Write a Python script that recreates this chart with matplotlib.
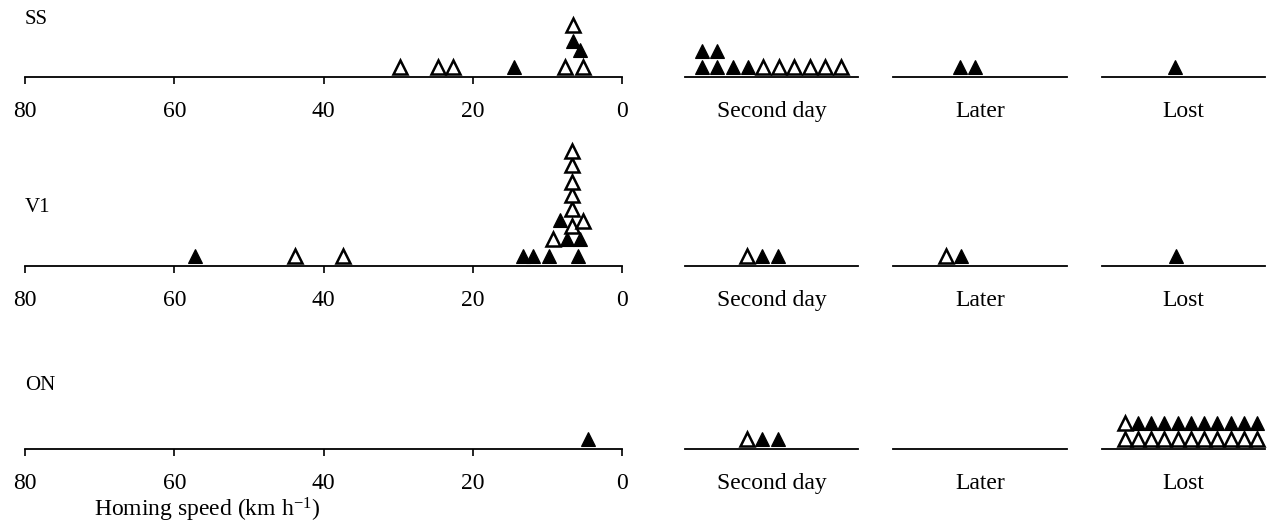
import matplotlib
matplotlib.use("Agg")
import matplotlib.pyplot as plt

plt.rcParams['font.family'] = ['Liberation Serif', 'DejaVu Serif']
plt.rcParams['mathtext.fontset'] = 'custom'
plt.rcParams['mathtext.rm'] = 'Liberation Serif'
plt.rcParams['mathtext.it'] = 'Liberation Serif:italic'

# homing speed (km/h), stack level, filled (1) or open (0)
ss_speed = [29.7, 24.6, 22.6, 14.5, 7.6, 5.2, 5.6, 6.6, 6.6]
ss_level = [0, 0, 0, 0, 0, 0, 1.15, 1.8, 2.85]
ss_filled = [0, 0, 0, 1, 0, 0, 1, 1, 0]

v1_speed = [57.2, 43.8, 37.4, 13.2, 11.9, 9.8, 5.9, 9.2, 7.4, 5.6,
            6.7, 8.3, 5.2, 6.7, 6.7, 6.7, 6.7, 6.7]
v1_level = [0, 0, 0, 0, 0, 0, 0, 1.15, 1.15, 1.15,
            2.05, 2.5, 2.4, 3.2, 4.2, 5.1, 6.2, 7.2]
v1_filled = [1, 0, 0, 1, 1, 1, 1, 0, 1, 1,
             0, 1, 0, 0, 0, 0, 0, 0]

on_speed = [4.6]
on_level = [0]
on_filled = [1]

sites = ["SS", "V1", "ON"]
speed_ticks = [80, 60, 40, 20, 0]
categories = ["Second day", "Later", "Lost"]

# outcome sequences per category (F = filled, O = open), bottom row first
second_day = {"SS": ["FFFFOOOOOO", "FF"], "V1": ["OFF"], "ON": ["OFF"]}
later = {"SS": ["FF"], "V1": ["OF"], "ON": []}
lost = {"SS": ["F"], "V1": ["F"], "ON": ["OOOOOOOOOOO", "OFFFFFFFFFF"]}
cat_data = [second_day, later, lost]

# layout (pixels)
W, H = 1267, 525
fig = plt.figure(figsize=(W / 100, H / 100), dpi=100)
row_base = [77, 266, 449]       # y of axis line, from top
row_label_y = [20, 207, 385]
main_x = (25, 622)
cat_x = [(685, 858), (893, 1067), (1102, 1265)]
cat_slots = [11.2, 11.5, 12.3]
cat_start = [{"SS": 1.08, "V1": 4.0, "ON": 4.0},
             {"SS": 4.4, "V1": 3.5, "ON": 4.0},
             {"SS": 5.5, "V1": 5.6, "ON": 1.7}]
lvl_px = 14.6
ax_h = 135
y0 = -10 / lvl_px
fs = 17
ms = 10.5

def tri(ax, x, y, filled):
    ax.plot(x, y, marker='^', ls='none', ms=ms,
            mfc='black' if filled else 'white', mec='black',
            mew=0.8 if filled else 1.8, clip_on=False)

def style(ax):
    for s in ['top', 'right', 'left']:
        ax.spines[s].set_visible(False)
    ax.spines['bottom'].set_linewidth(1.3)
    ax.set_yticks([])
    ax.set_ylim(y0, y0 + ax_h / lvl_px)
    ax.patch.set_visible(False)

data = {"SS": (ss_speed, ss_level, ss_filled),
        "V1": (v1_speed, v1_level, v1_filled),
        "ON": (on_speed, on_level, on_filled)}

for r, site in enumerate(sites):
    bottom = (H - row_base[r]) / H
    ax = fig.add_axes([main_x[0] / W, bottom, (main_x[1] - main_x[0]) / W, ax_h / H])
    style(ax)
    ax.set_xlim(80, 0)
    ax.set_xticks(speed_ticks)
    ax.set_xticklabels([str(t) for t in speed_ticks], fontsize=fs)
    ax.tick_params(axis='x', direction='out', length=5, width=1.2, pad=12)
    sp, lv, fl = data[site]
    for x, y, f in zip(sp, lv, fl):
        tri(ax, x, y, f)
    fig.text(25 / W, 1 - row_label_y[r] / H, site, fontsize=15,
             ha='left', va='center')

    for c, cat in enumerate(categories):
        x0, x1 = cat_x[c]
        cax = fig.add_axes([x0 / W, bottom, (x1 - x0) / W, ax_h / H])
        style(cax)
        cax.set_xlim(0, cat_slots[c])
        cax.set_xticks([cat_slots[c] / 2])
        cax.set_xticklabels([cat], fontsize=fs)
        cax.tick_params(axis='x', length=0, pad=12 + 5)
        for k, seq in enumerate(cat_data[c][site]):
            for i, ch in enumerate(seq):
                tri(cax, cat_start[c][site] + i, k * 1.1, ch == 'F')

fig.text(207 / W, 1 - 510 / H, "Homing speed (km h$^{-1}$)", fontsize=fs,
         ha='center', va='center')

fig.savefig("out.png", dpi=100)
